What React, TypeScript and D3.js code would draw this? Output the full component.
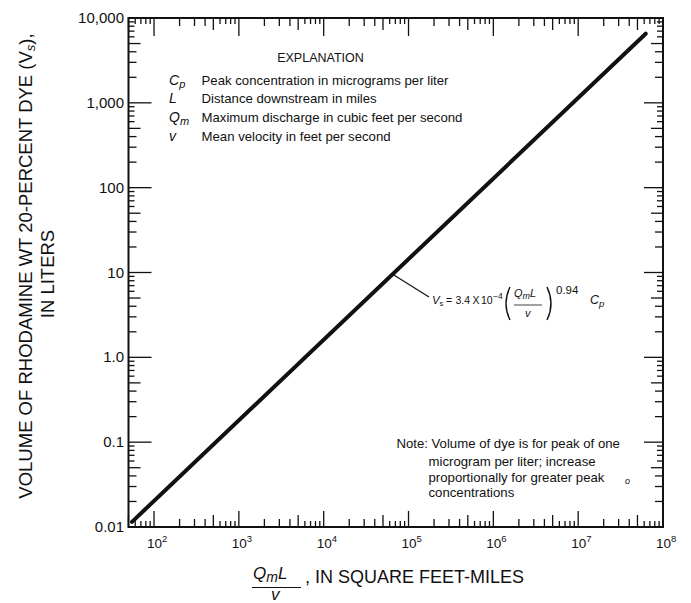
import React from "react";
import * as d3 from "d3";

const W = 691;
const H = 603;

// ---- data ----
const xDomain = [50, 1e8];
const yDomain = [0.01, 10000];
const xMajorTicks = [1e2, 1e3, 1e4, 1e5, 1e6, 1e7, 1e8];
const xTickExponents = ["2", "3", "4", "5", "6", "7", "8"];
const yMajorTicks = [0.01, 0.1, 1, 10, 100, 1000, 10000];
const yTickLabels = ["0.01", "0.1", "1.0", "10", "100", "1,000", "10,000"];
const minorMultipliers = [2, 3, 4, 5, 6, 7, 8, 9];
const curveX = [55, 6.25e7];
const curveY = [0.0115, 6530];
const leaderAnchorX = 6.5e4;
const explanationSymbols = [
  { base: "C", sub: "p" },
  { base: "L", sub: "" },
  { base: "Q", sub: "m" },
  { base: "v", sub: "" },
];
const explanationTexts = [
  "Peak concentration in micrograms per liter",
  "Distance downstream in miles",
  "Maximum discharge in cubic feet per second",
  "Mean velocity in feet per second",
];
const noteLines = [
  "Volume of dye is for peak of one",
  "microgram per liter; increase",
  "proportionally for greater peak",
  "concentrations",
];

const FONT = "'Liberation Sans', Arial, Helvetica, sans-serif";

export default function App() {
  const left = 128.5, right = 663, top = 18, bottom = 527;
  const x = d3.scaleLog().domain(xDomain).range([left, right]);
  const y = d3.scaleLog().domain(yDomain).range([bottom, top]);

  const minorLen = (m: number) => (m === 5 ? 12 : m <= 4 ? 8 : 6);
  const majorLen = 19;

  const xMinor: { v: number; m: number }[] = [];
  for (let e = 1; e < 8; e++) {
    for (const m of minorMultipliers) {
      const v = Math.pow(10, e) * m;
      if (v >= xDomain[0] && v <= xDomain[1]) xMinor.push({ v, m });
    }
  }
  const yMinor: { v: number; m: number }[] = [];
  for (let e = -2; e < 4; e++) {
    for (const m of minorMultipliers) {
      const v = Math.pow(10, e) * m;
      if (v >= yDomain[0] && v <= yDomain[1]) yMinor.push({ v, m });
    }
  }

  const line = d3
    .line<number>()
    .x((_, i) => x(curveX[i]))
    .y((d) => y(d));

  const lx0 = Math.log10(curveX[0]), lx1 = Math.log10(curveX[1]);
  const ly0 = Math.log10(curveY[0]), ly1 = Math.log10(curveY[1]);
  const t = (Math.log10(leaderAnchorX) - lx0) / (lx1 - lx0);
  const anchorY = Math.pow(10, ly0 + t * (ly1 - ly0));
  const ax = x(leaderAnchorX), ay = y(anchorY);
  const fx = 429, fy = 297; // leader end
  const base = 303.5; // formula baseline

  const ticks: React.ReactNode[] = [];
  xMajorTicks.forEach((v, i) => {
    const px = x(v);
    ticks.push(<line key={"xb" + i} x1={px} x2={px} y1={bottom} y2={bottom - 16} />);
    ticks.push(<line key={"xt" + i} x1={px} x2={px} y1={top} y2={top + 18} />);
  });
  xMinor.forEach(({ v, m }, i) => {
    const px = x(v);
    const L = minorLen(m);
    ticks.push(<line key={"xmb" + i} x1={px} x2={px} y1={bottom} y2={bottom - L} />);
    ticks.push(<line key={"xmt" + i} x1={px} x2={px} y1={top} y2={top + L} />);
  });
  yMajorTicks.forEach((v, i) => {
    const py = y(v);
    ticks.push(<line key={"yl" + i} x1={left} x2={left + majorLen + 4} y1={py} y2={py} />);
    ticks.push(<line key={"yr" + i} x1={right} x2={right - majorLen} y1={py} y2={py} />);
  });
  yMinor.forEach(({ v, m }, i) => {
    const py = y(v);
    const L = minorLen(m);
    ticks.push(<line key={"yml" + i} x1={left} x2={left + L} y1={py} y2={py} />);
    ticks.push(<line key={"ymr" + i} x1={right} x2={right - L} y1={py} y2={py} />);
  });

  const parenTop = 287, parenBot = 320;
  const lp = `M ${510} ${parenTop} Q ${502} ${(parenTop + parenBot) / 2} ${510} ${parenBot}`;
  const rp = `M ${547} ${parenTop} Q ${555} ${(parenTop + parenBot) / 2} ${547} ${parenBot}`;

  return (
    <svg
      width={W}
      height={H}
      viewBox={`0 0 ${W} ${H}`}
      style={{ position: "absolute", left: 0, top: 0, background: "#fff" }}
      fontFamily={FONT}
    >
      <rect x={0} y={0} width={W} height={H} fill="#fff" />
      <g stroke="#111" strokeWidth={1.3}>{ticks}</g>
      <rect
        x={left}
        y={top}
        width={right - left}
        height={bottom - top}
        fill="none"
        stroke="#111"
        strokeWidth={2}
      />
      <path d={line(curveY) || ""} fill="none" stroke="#111" strokeWidth={4} strokeLinecap="round" />

      {/* y tick labels */}
      <g fontSize={15} fill="#111" textAnchor="end">
        {yMajorTicks.map((v, i) => (
          <text key={i} x={124} y={y(v) + 5}>
            {yTickLabels[i]}
          </text>
        ))}
      </g>
      {/* x tick labels */}
      <g fill="#111">
        {xMajorTicks.map((v, i) => (
          <g key={i}>
            <text x={x(v) + 0.5} y={548} fontSize={13.5} textAnchor="middle">
              10
            </text>
            <text x={x(v) + 8} y={542} fontSize={9.5}>
              {xTickExponents[i]}
            </text>
          </g>
        ))}
      </g>

      {/* y axis title */}
      <g fill="#111" fontSize={18.5}>
        <text transform={`translate(31.5,266) rotate(-90)`} textAnchor="middle">
          VOLUME OF RHODAMINE WT 20-PERCENT DYE (V
          <tspan fontStyle="italic" fontSize={13} dy={3}>s</tspan>
          <tspan dy={-3}>),</tspan>
        </text>
        <text transform={`translate(53.5,274) rotate(-90)`} textAnchor="middle">
          IN LITERS
        </text>
      </g>

      {/* x axis title */}
      <g fill="#111">
        <text x={253} y={579} fontSize={17} fontStyle="italic">
          Q<tspan fontSize={14} dy={3}>m</tspan>
          <tspan dy={-3}>L</tspan>
        </text>
        <line x1={252} x2={301} y1={587.5} y2={587.5} stroke="#111" strokeWidth={1} />
        <text x={271} y={600} fontSize={17} fontStyle="italic">
          v
        </text>
        <text x={305} y={583} fontSize={18}>
          , IN SQUARE FEET-MILES
        </text>
      </g>

      {/* explanation */}
      <g fill="#111" fontSize={13.2}>
        <text x={320.5} y={61.5} textAnchor="middle" fontSize={12.5}>
          EXPLANATION
        </text>
        {explanationSymbols.map((s, i) => (
          <text key={"s" + i} x={169} y={84.5 + i * 18.9} fontStyle="italic" fontSize={14}>
            {s.base}
            {s.sub && (
              <tspan fontSize={11} dy={3}>
                {s.sub}
              </tspan>
            )}
          </text>
        ))}
        {explanationTexts.map((s, i) => (
          <text key={"t" + i} x={201.5} y={84.5 + i * 18.9}>
            {s}
          </text>
        ))}
      </g>

      {/* formula */}
      <line x1={ax} y1={ay} x2={fx} y2={fy} stroke="#111" strokeWidth={1.2} />
      <g fill="#111" fontSize={10.5}>
        <text x={432} y={base} fontStyle="italic" fontSize={11.5}>V</text>
        <text x={439.5} y={base + 2} fontSize={7.5}>s</text>
        <text x={446} y={base}>=</text>
        <text x={455.5} y={base}>3.4</text>
        <text x={472.5} y={base}>X</text>
        <text x={481} y={base}>10</text>
        <text x={493} y={base - 5} fontSize={8.5}>−4</text>
        <text x={514} y={base - 7} fontStyle="italic" fontSize={11}>
          Q<tspan fontSize={9} dy={2}>m</tspan>
          <tspan dy={-2}>L</tspan>
        </text>
        <line x1={514} x2={542} y1={305} y2={305} stroke="#111" strokeWidth={0.8} />
        <text x={525} y={base + 13} fontStyle="italic" fontSize={11}>v</text>
        <text x={556} y={base - 10} fontSize={11.5}>0.94</text>
        <text x={590} y={base} fontStyle="italic" fontSize={12.5}>
          C<tspan fontSize={9.5} dy={3}>p</tspan>
        </text>
      </g>
      <path d={lp} fill="none" stroke="#111" strokeWidth={1.4} />
      <path d={rp} fill="none" stroke="#111" strokeWidth={1.4} />

      {/* note */}
      <g fill="#111" fontSize={13.2}>
        <text x={396.5} y={448}>Note:</text>
        <text x={431.5} y={448}>{noteLines[0]}</text>
        {noteLines.slice(1).map((s, i) => (
          <text key={i} x={428.5} y={466 + i * 15.5}>
            {s}
          </text>
        ))}
        <text x={625} y={484} fontSize={9} fontStyle="italic">
          o
        </text>
      </g>
    </svg>
  );
}
